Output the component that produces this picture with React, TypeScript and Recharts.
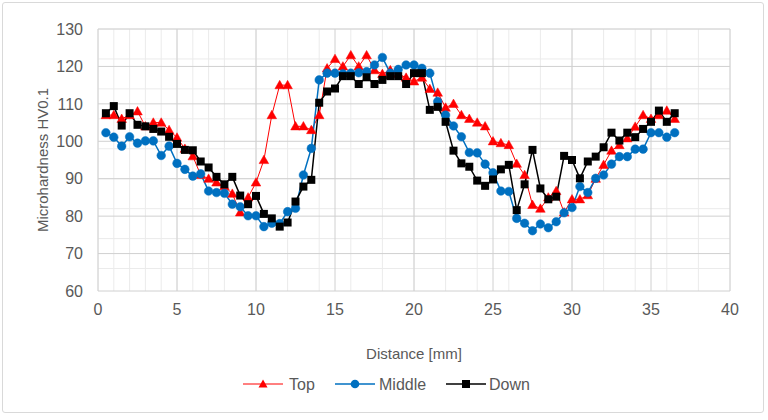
import React from "react";
import { LineChart, Line, XAxis, YAxis, CartesianGrid } from "recharts";

const distances = [
  0.5, 1, 1.5, 2, 2.5, 3, 3.5, 4, 4.5, 5, 5.5, 6, 6.5, 7, 7.5, 8, 8.5, 9, 9.5, 10,
  10.5, 11, 11.5, 12, 12.5, 13, 13.5, 14, 14.5, 15, 15.5, 16, 16.5, 17, 17.5, 18, 18.5, 19, 19.5, 20,
  20.5, 21, 21.5, 22, 22.5, 23, 23.5, 24, 24.5, 25, 25.5, 26, 26.5, 27, 27.5, 28, 28.5, 29, 29.5, 30,
  30.5, 31, 31.5, 32, 32.5, 33, 33.5, 34, 34.5, 35, 35.5, 36, 36.5,
];

const topValues = [
  107, 107, 106, 107, 108, 104, 105, 105, 103, 101, 98, 96, 91, 90, 89, 88, 86, 81, 85, 89,
  95, 107, 115, 115, 104, 104, 103, 107, 119.5, 122, 120, 123, 120, 123, 119, 118, 119, 118, 117, 116,
  117, 114, 113, 109, 110, 107, 106, 105, 104, 100, 99.5, 99, 94, 91, 83, 82, 85, 86.7, 81, 84.5,
  84.5, 85.6, 90, 93.7, 97.5, 99, 100.8, 103.9, 107, 106, 107, 108.2, 106,
];

const middleValues = [
  102.3, 101.1, 98.7, 101.2, 99.5, 100.1, 100.1, 96.2, 98.7, 94.1, 92.5, 90.7, 91.3, 86.7, 86.3, 86.1, 83.2, 82.5, 80.1, 80.1,
  77.2, 78.1, 78, 81.2, 82.1, 91, 98.1, 116.4, 118.2, 118.2, 118, 118.2, 118.3, 118.6, 120.4, 122.4, 118.2, 119.2, 120.4, 120.4,
  119.5, 118.2, 110.6, 107, 104.1, 101.2, 97, 96.9, 93.9, 91.6, 86.7, 86.6, 79.4, 78.1, 76.1, 77.9, 76.9, 78.5, 80.9, 82.3,
  87.9, 86.3, 90.1, 91, 93.9, 95.9, 95.9, 97.9, 97.9, 102.3, 102.3, 101.1, 102.3,
];

const downValues = [
  107.5, 109.4, 104.2, 107.5, 104.4, 104, 103.3, 102.6, 101.2, 99.3, 97.7, 97.6, 94.6, 93, 90.5, 88.5, 90.5, 85.5, 83.2, 85.4,
  80.6, 79.4, 77.2, 78.3, 83.9, 87.9, 89.7, 110.3, 113.3, 114.1, 117.4, 117.4, 115.3, 117.1, 115.3, 116.4, 117.4, 117.4, 115.3, 118.2,
  118.2, 108.4, 109.2, 105.2, 97.5, 94.1, 93.2, 89.5, 88.1, 89.8, 92.5, 93.7, 81.6, 88.5, 97.7, 87.4, 84.5, 85.2, 96.1, 95,
  90.1, 94.6, 95.9, 98.4, 102.3, 100.2, 102.3, 101.1, 103.3, 105.2, 108.2, 105.2, 107.5,
];

const xTicks = [0, 5, 10, 15, 20, 25, 30, 35, 40];
const yTicks = [60, 70, 80, 90, 100, 110, 120, 130];
const xMinor = Array.from({ length: 41 }, (_, i) => i);
const yMinor = Array.from({ length: 36 }, (_, i) => 60 + i * 2);

const seriesNames = ["Top", "Middle", "Down"];
const RED = "#FF0000";
const BLUE = "#0070C0";
const BLACK = "#000000";

const data = distances.map((x, i) => ({
  x,
  top: topValues[i],
  middle: middleValues[i],
  down: downValues[i],
}));

const Triangle = (props: any) => {
  const { cx, cy, key } = props;
  if (cx == null || cy == null) return null;
  return (
    <polygon
      key={key}
      points={`${cx},${cy - 4.8} ${cx - 4.8},${cy + 3.6} ${cx + 4.8},${cy + 3.6}`}
      fill={RED}
      stroke={RED}
      strokeWidth={0.5}
    />
  );
};

const Circle = (props: any) => {
  const { cx, cy, key } = props;
  if (cx == null || cy == null) return null;
  return <circle key={key} cx={cx} cy={cy} r={4.3} fill={BLUE} stroke={BLUE} strokeWidth={0.5} />;
};

const Square = (props: any) => {
  const { cx, cy, key } = props;
  if (cx == null || cy == null) return null;
  return <rect key={key} x={cx - 4} y={cy - 4} width={8} height={8} fill={BLACK} />;
};

const FONT = "'Liberation Sans', Arial, sans-serif";
const TXT = "#595959";

const YTitle = (props: any) => {
  const vb = props.viewBox || { x: 38, y: 29, width: 60, height: 262 };
  const cx = 42;
  const cy = vb.y + vb.height / 2;
  return (
    <text
      x={cx}
      y={cy}
      transform={`rotate(-90, ${cx}, ${cy})`}
      textAnchor="middle"
      dominantBaseline="central"
      fill={TXT}
      fontSize={15}
      fontFamily={FONT}
    >
      Microhardness HV0.1
    </text>
  );
};

export default function App() {
  return (
    <div style={{ position: "absolute", left: 0, top: 0, width: 768, height: 420, background: "#fff" }}>
      <div
        style={{
          position: "absolute",
          left: 2,
          top: 2,
          width: 760,
          height: 409,
          border: "1px solid #d9d9d9",
          borderRadius: 3,
        }}
      />
      <div style={{ position: "absolute", left: 0, top: 0 }}>
        <LineChart
          width={768}
          height={420}
          data={data}
          margin={{ top: 29, right: 38, left: 38, bottom: 99 }}
        >
          <CartesianGrid
            stroke="#ebebeb"
            strokeWidth={1}
            verticalValues={xMinor}
            horizontalValues={yMinor}
          />
          <CartesianGrid
            stroke="#d0d0d0"
            strokeWidth={1}
            verticalValues={xTicks}
            horizontalValues={yTicks}
          />
          <XAxis
            dataKey="x"
            type="number"
            domain={[0, 40]}
            ticks={xTicks}
            allowDataOverflow
            axisLine={false}
            tickLine={false}
            tickSize={0}
            tickMargin={13}
            height={30}
            tick={{ fill: TXT, fontSize: 16, fontFamily: FONT }}
            label={{
              value: "Distance [mm]",
              position: "bottom",
              offset: 27,
              fill: TXT,
              fontSize: 15,
              fontFamily: FONT,
            }}
          />
          <YAxis
            type="number"
            domain={[60, 130]}
            ticks={yTicks}
            allowDataOverflow
            axisLine={false}
            tickLine={false}
            tickSize={0}
            tickMargin={15}
            width={60}
            tick={{ fill: TXT, fontSize: 16, fontFamily: FONT }}
            label={<YTitle />}
          />
          <Line
            dataKey="top"
            name={seriesNames[0]}
            stroke={RED}
            strokeWidth={1}
            dot={<Triangle />}
            activeDot={false}
            isAnimationActive={false}
          />
          <Line
            dataKey="middle"
            name={seriesNames[1]}
            stroke={BLUE}
            strokeWidth={1.5}
            dot={<Circle />}
            activeDot={false}
            isAnimationActive={false}
          />
          <Line
            dataKey="down"
            name={seriesNames[2]}
            stroke={BLACK}
            strokeWidth={1.5}
            dot={<Square />}
            activeDot={false}
            isAnimationActive={false}
          />
        </LineChart>
      </div>
      <svg
        width={768}
        height={420}
        style={{ position: "absolute", left: 0, top: 0, pointerEvents: "none" }}
      >
        <g>
          <line x1={243} y1={384} x2={283} y2={384} stroke={RED} strokeWidth={1} />
          <polygon points={`263,379.5 258.5,387.5 267.5,387.5`} fill={RED} />
          <text x={289} y={384} dominantBaseline="central" fill={TXT} fontSize={16} fontFamily={FONT}>
            {seriesNames[0]}
          </text>
        </g>
        <g>
          <line x1={335} y1={384} x2={375} y2={384} stroke={BLUE} strokeWidth={1.5} />
          <circle cx={355} cy={384} r={4.3} fill={BLUE} />
          <text x={379} y={384} dominantBaseline="central" fill={TXT} fontSize={16} fontFamily={FONT}>
            {seriesNames[1]}
          </text>
        </g>
        <g>
          <line x1={446} y1={384} x2={486} y2={384} stroke={BLACK} strokeWidth={1.5} />
          <rect x={462} y={380} width={8} height={8} fill={BLACK} />
          <text x={489} y={384} dominantBaseline="central" fill={TXT} fontSize={16} fontFamily={FONT}>
            {seriesNames[2]}
          </text>
        </g>
      </svg>
    </div>
  );
}
